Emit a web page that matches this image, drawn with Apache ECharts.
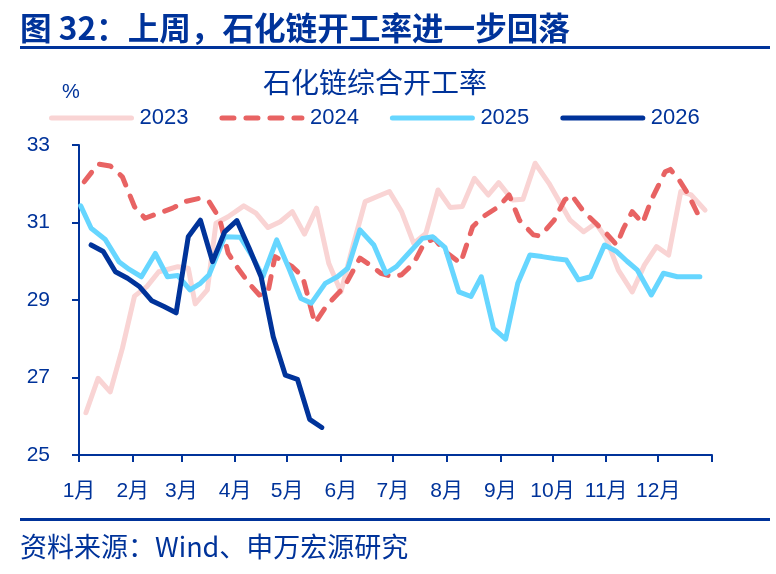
<!DOCTYPE html>
<html>
<head>
<meta charset="utf-8">
<script src="https://cdn.jsdelivr.net/npm/echarts@6/dist/echarts.min.js"></script>
<style>
html,body{margin:0;padding:0;background:#fff;}
#c{width:776px;height:574px;}
</style>
</head>
<body>
<div id="c"></div>
<script>
// ---- data (x = day of year, y = %) ----
var monthStarts = [0, 31, 59, 90, 120, 151, 181, 212, 243, 273, 304, 334];
var monthLabels = ['1月','2月','3月','4月','5月','6月','7月','8月','9月','10月','11月','12月'];
var yearEnd = 365;
var seriesNames = ['2023', '2024', '2025', '2026'];

var days2023 = [4,11,18,25,32,39,46,52,57,63,67,74,79,86,95,102,109,116,123,130,137,144,151,158,165,172,179,186,193,200,207,214,221,228,236,242,250,256,263,271,277,283,291,298,304,311,319,326,333,340,347,353,361];
var vals2023 = [26.09,26.98,26.63,27.75,29.10,29.34,29.73,29.80,29.86,29.82,28.90,29.26,30.98,31.15,31.43,31.24,30.87,31.02,31.28,30.70,31.37,29.95,29.21,30.40,31.54,31.67,31.80,31.28,30.46,30.72,31.84,31.39,31.41,32.14,31.71,32.03,31.58,31.60,32.53,32.01,31.54,31.07,30.76,30.98,30.59,29.77,29.21,29.90,30.38,30.16,31.80,31.71,31.32];

var days2024 = [3,11,18,25,32,38,46,54,61,69,75,81,86,91,98,104,109,113,123,129,136,143,153,162,168,174,181,186,193,199,205,210,220,227,233,242,248,254,262,266,274,280,284,291,298,304,310,314,319,325,330,338,341,346,351,359];
var vals2024 = [32.05,32.51,32.46,32.18,31.41,31.11,31.24,31.37,31.54,31.62,31.54,31.11,30.21,29.86,29.43,29.13,29.21,30.12,29.86,29.60,28.40,28.87,29.34,30.08,29.90,29.69,29.60,29.65,29.95,30.46,30.59,30.29,29.95,30.89,31.15,31.41,31.71,31.06,30.68,30.65,31.06,31.58,31.71,31.28,30.98,30.72,30.42,30.85,31.28,30.98,31.58,32.31,32.37,32.10,31.75,31.02];

var days2025 = [1,7,15,23,29,36,44,51,57,64,70,75,84,93,100,106,114,121,128,134,142,149,155,162,170,177,183,191,198,204,211,219,226,232,239,246,253,260,267,274,281,288,295,303,310,316,322,330,337,345,351,358];
var vals2025 = [31.43,30.85,30.57,29.99,29.79,29.60,30.20,29.60,29.63,29.26,29.43,29.65,30.63,30.62,30.12,29.60,30.55,29.82,29.04,28.92,29.43,29.60,29.82,30.81,30.42,29.69,29.86,30.25,30.59,30.63,30.36,29.21,29.09,29.60,28.27,27.99,29.43,30.16,30.12,30.07,30.03,29.52,29.60,30.42,30.25,30.00,29.77,29.13,29.69,29.60,29.60,29.60];

var days2026 = [7,14,21,28,35,42,49,56,63,70,77,84,91,98,105,112,119,126,133,140];
var vals2026 = [30.42,30.25,29.73,29.56,29.34,28.98,28.83,28.67,30.63,31.06,29.99,30.76,31.05,30.35,29.60,28.05,27.06,26.95,25.92,25.71];

var yTicks = {min: 25, max: 33, interval: 2};

function pairs(d, v){ return d.map(function(x,i){ return [x, v[i]]; }); }

var navy = '#00339A';
var cjk = '"Liberation Sans","Noto Sans CJK SC",sans-serif';
var hei = '"Noto Sans CJK SC",sans-serif';

var chart = echarts.init(document.getElementById('c'), null, {renderer:'canvas'});

function lineSeries(name, data, color, dashed){
  return {
    name: name, type: 'line', data: data, symbol: 'none', smooth: false,
    lineStyle: {color: color, width: 5, type: dashed ? [12,12] : 'solid', cap: 'round', join: 'round'},
    itemStyle: {color: color},
    emphasis: {disabled: true}
  };
}

var allTicks = monthStarts.concat([yearEnd]);

chart.setOption({
  animation: false,
  backgroundColor: '#fff',
  title: [
    {text: '图 32：上周，石化链开工率进一步回落', left: 20, top: 12, padding: 0,
     textStyle: {fontSize: 31.6, fontWeight: 'bold', color: navy, fontFamily: hei}},
    {text: '石化链综合开工率', left: 263, top: 68, padding: 0,
     textStyle: {fontSize: 28, fontWeight: 'normal', color: navy, fontFamily: hei}},
    {text: '%', left: 62, top: 82, padding: 0,
     textStyle: {fontSize: 20, fontWeight: 'normal', color: navy, fontFamily: cjk}},
    {text: '资料来源：Wind、申万宏源研究', left: 20, top: 533, padding: 0,
     textStyle: {fontSize: 27, fontWeight: 'normal', color: navy, fontFamily: hei}}
  ],
  graphic: [
    {type: 'rect', shape: {x: 20, y: 46, width: 750, height: 3}, style: {fill: navy}, silent: true},
    {type: 'rect', shape: {x: 20, y: 518, width: 750, height: 3}, style: {fill: navy}, silent: true}
  ],
  legend: {
    data: seriesNames, left: 44, top: 102, itemWidth: 80, itemHeight: 14, itemGap: 31,
    itemStyle: {opacity: 0},
    lineStyle: {width: 5, cap: 'round'},
    textStyle: {fontSize: 22, color: navy, fontFamily: cjk, padding: [0,0,0,3]}
  },
  grid: {left: 79, right: 64, top: 145, bottom: 119, containLabel: false},
  xAxis: {
    type: 'value', min: 0, max: yearEnd,
    axisLine: {show: true, lineStyle: {color: navy, width: 2}},
    axisTick: {show: true, length: 7, lineStyle: {color: navy, width: 2}, customValues: allTicks},
    axisLabel: {
      customValues: monthStarts, margin: 26, fontSize: 21, color: navy, fontFamily: cjk,
      formatter: function(v){ var i = monthStarts.indexOf(Math.round(v)); return i >= 0 ? monthLabels[i] : ''; }
    },
    splitLine: {show: false}
  },
  yAxis: {
    type: 'value', min: yTicks.min, max: yTicks.max, interval: yTicks.interval,
    axisLine: {show: true, lineStyle: {color: navy, width: 2}},
    axisTick: {show: true, length: 7, lineStyle: {color: navy, width: 2}},
    axisLabel: {margin: 29, fontSize: 21, color: navy, fontFamily: cjk},
    splitLine: {show: false}
  },
  series: [
    lineSeries('2023', pairs(days2023, vals2023), '#F9D4D4', false),
    lineSeries('2024', pairs(days2024, vals2024), '#E86363', true),
    lineSeries('2025', pairs(days2025, vals2025), '#66D6FF', false),
    lineSeries('2026', pairs(days2026, vals2026), navy, false)
  ]
});
</script>
</body>
</html>
